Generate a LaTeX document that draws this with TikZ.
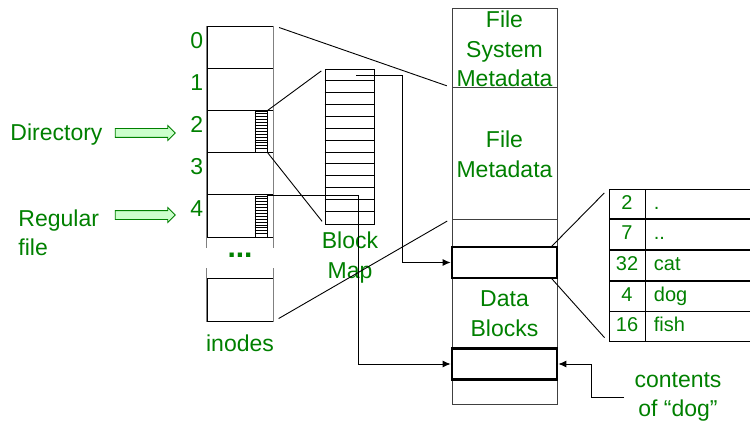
\documentclass[tikz,border=0pt]{standalone}
\usepackage{fontspec}
\setmainfont{Liberation Sans}
\usepackage{xcolor}
\usetikzlibrary{shapes,arrows,arrows.meta,positioning,calc}
\definecolor{fsgreen}{RGB}{0,128,0}

\begin{document}
\begin{tikzpicture}[x=1pt,y=-1pt,line width=0.9pt,
  lbl/.style={text=fsgreen, font=\fontsize{23}{29.5}\selectfont, inner sep=0pt},
  small/.style={text=fsgreen, font=\fontsize{20}{24}\selectfont, text height=14pt, text depth=4pt},
  icell/.style={rectangle, draw, minimum width=66pt, minimum height=42.2pt, inner sep=0pt},
  hatch/.style={rectangle, draw, minimum width=12pt, minimum height=41pt, inner sep=0pt},
  blk/.style={rectangle, draw=black!75, minimum width=105pt, inner sep=0pt},
  dblk/.style={rectangle, draw, line width=2.8pt, minimum width=105pt, minimum height=31pt, inner sep=0pt},
  bigarrow/.style={single arrow, draw=green!50!black, fill=green!20, line width=0.8pt,
    inner sep=4pt, single arrow head extend=3pt, single arrow tip angle=90, minimum height=60pt},
  numcell/.style={rectangle, draw, small, minimum width=36pt, minimum height=29.8pt, inner sep=0pt},
  namecell/.style={rectangle, draw, small, text width=94pt, align=left, inner xsep=8pt,
    inner ysep=0pt, minimum height=29.8pt},
  conn/.style={-{Latex[length=8pt,width=7pt]}}]
\useasboundingbox (0,0) rectangle (750,425);

% inodes
\foreach \k in {0,...,4}{
  \node[icell] (i\k) at (240,47.1+42.2*\k) {};
  \node[lbl, anchor=east] (l\k) at ([xshift=-3pt,yshift=7pt]i\k.west) {\k};
}
\node[icell] (iN) at (240,300) {};
\draw[gray] (i0.north west) -- (i4.south west) -- ++(0,11);
\draw[gray] (i0.north east) -- (i4.south east) -- ++(0,11);
\draw[gray] (iN.south west) -- ++(0,-54);
\draw[gray] (iN.south east) -- ++(0,-54);
\node[lbl, font=\fontsize{30}{30}\selectfont\bfseries] (dots) at (240,255) {...};
\node[lbl] (inodes) at (240,343) {inodes};

% hatched pointers
\node[hatch] (hd) at (261,131.5) {};
\node[hatch] (hf) at (261,216.5) {};
\foreach \k in {1,...,13}{
  \draw[line width=0.6pt] ([yshift=-\k*2.93pt]hd.north west) -- ([yshift=-\k*2.93pt]hd.north east);
  \draw[line width=0.6pt] ([yshift=-\k*2.93pt]hf.north west) -- ([yshift=-\k*2.93pt]hf.north east);
}

% labels with arrows
\node[lbl] (dir) at (56.5,135) {Directory};
\node[bigarrow] (ad) at (143,133) {};
\node[lbl, align=left, anchor=west] (reg) at (18,233) {Regular\\file};
\node[bigarrow] (ar) at (143,215) {};

% block map
\node[rectangle, draw, minimum width=49pt, minimum height=155pt, inner sep=0pt] (bm) at (349.5,146.5) {};
\foreach \r in {1,...,12}
  \draw ([yshift=-\r*11.92pt]bm.north west) -- ([yshift=-\r*11.92pt]bm.north east);
\node[lbl, align=center] (bml) at (350,257.5) {Block\\Map};
\coordinate (bm1) at (356,75);

% disk layout
\node[blk, minimum height=79pt] (fsm) at (504.5,47.5) {};
\node[blk, minimum height=132pt] (fmd) at (504.5,153) {};
\node[blk, minimum height=185pt] (dat) at (504.5,311.5) {};
\node[lbl, align=center] (tfsm) at (504.5,49) {File\\System\\Metadata};
\node[lbl, align=center] (tfmd) at (504.5,154.5) {File\\Metadata};
\node[lbl, align=center] (tdat) at (504.5,313.5) {Data\\Blocks};
\node[dblk] (db1) at (504.5,262.5) {};
\node[dblk] (db2) at (504.5,364) {};

% zoom lines
\draw[shorten <=6pt, shorten >=5pt] (i0.north east) -- (fsm.south west);
\draw[shorten <=6pt, shorten >=5pt] (iN.south east) -- (dat.north west);
\draw[shorten >=4pt] (hd.north east) -- (bm.north west);
\draw[shorten >=4pt] (hd.south east) -- (bm.south west);

% pointers
\draw[conn] (bm1) -| ([xshift=-48pt]db1.west) -- (db1.west);
\draw[conn] (hf.north east) -| ([xshift=-92pt]db2.west) -- (db2.west);

% directory contents
\node[numcell] (n1) at (627,204) {2};
\node[numcell, below=0pt of n1] (n2) {7};
\node[numcell, below=0pt of n2] (n3) {32};
\node[numcell, below=0pt of n3] (n4) {4};
\node[numcell, below=0pt of n4] (n5) {16};
\node[namecell, right=0pt of n1] (m1) {.};
\node[namecell, right=0pt of n2] (m2) {..};
\node[namecell, right=0pt of n3] (m3) {cat};
\node[namecell, right=0pt of n4] (m4) {dog};
\node[namecell, right=0pt of n5] (m5) {fish};
\draw[shorten <=-1pt, shorten >=6pt] ([xshift=-6pt]db1.north east) -- (n1.north west);
\draw[shorten <=-1pt, shorten >=6pt] ([xshift=-6pt]db1.south east) -- (n5.south west);

% contents of dog
\node[lbl, align=center] (ct) at (678,397) {contents\\of “dog”};
\draw[conn] ([xshift=-10pt]ct.west) -| ([xshift=33pt]db2.east) -- (db2.east);
\end{tikzpicture}
\end{document}
